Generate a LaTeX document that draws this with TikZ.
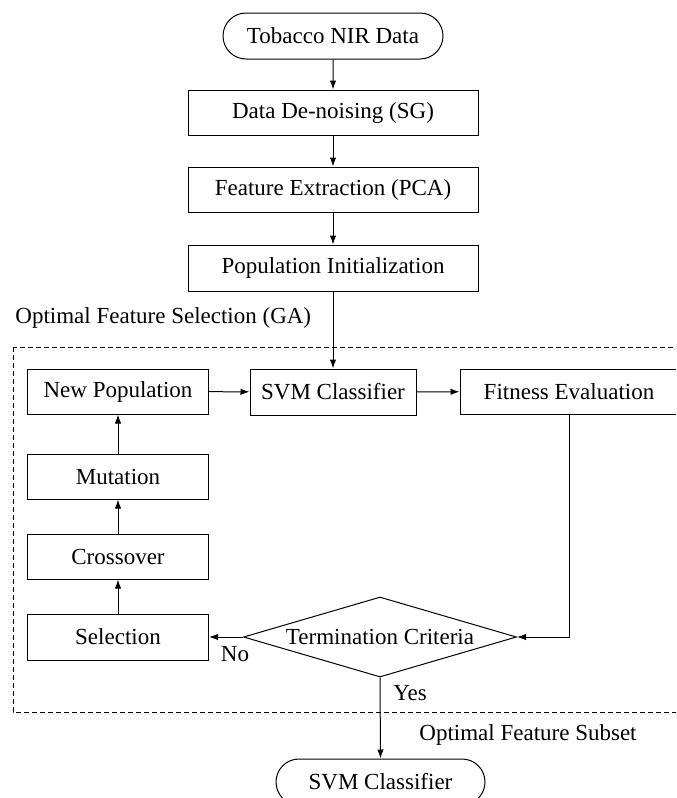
\documentclass[tikz,border=0pt]{standalone}
\usepackage{fontspec}
\setmainfont{Liberation Serif}
\usetikzlibrary{shapes.geometric,shapes.misc,arrows.meta}
\begin{document}
\begin{tikzpicture}[x=0.5pt,y=-0.5pt,
  every node/.style={font=\fontsize{11.5}{13}\selectfont,inner sep=0pt},
  proc/.style={draw,rectangle,line width=0.5pt,minimum height=22.5pt,align=center},
  term/.style={draw,rounded rectangle,line width=0.5pt,minimum height=23pt},
  decis/.style={draw,diamond,aspect=3.41,line width=0.5pt,minimum width=136.5pt,minimum height=40pt},
  arr/.style={line width=0.5pt,-{Latex[length=4.5pt,width=3.2pt]}}
]
\useasboundingbox (0,0) rectangle (676,798);
\clip (0,0) rectangle (676,798);
\fill[white] (0,0) rectangle (676,798);

\node[term,minimum width=110pt] (start) at (333,36) {Tobacco NIR Data};
\node[proc,minimum width=145pt] (den) at (333,112.5) {Data De-noising (SG)};
\node[proc,minimum width=145pt] (fe) at (333,189.5) {Feature Extraction (PCA)};
\node[proc,minimum width=145pt,minimum height=23pt] (pi) at (333,268) {Population Initialization};

\node[anchor=west] (galbl) at (15,318) {Optimal Feature Selection (GA)};
\draw[line width=0.5pt,dash pattern=on 2.5pt off 1.5pt] (13,347) rectangle (690,712);

\node[proc,minimum width=90.5pt] (np) at (118,391.5) {New Population};
\node[proc,minimum width=83pt,minimum height=23pt] (svm) at (333,392) {SVM Classifier};
\node[proc,minimum width=109pt] (fit) at (569,391.5) {Fitness Evaluation};
\node[proc,minimum width=90.5pt] (mut) at (118,476.5) {Mutation};
\node[proc,minimum width=90.5pt] (cro) at (118,556.5) {Crossover};
\node[proc,minimum width=90.5pt,minimum height=23pt] (sel) at (118,637) {Selection};
\node[decis] (tc) at (380,637) {Termination Criteria};

\node (no) at (235,654) {No};
\node (yes) at (410,693) {Yes};
\node (ofs) at (528,735) {Optimal Feature Subset};
\node[term,minimum width=104.5pt] (end) at (380.5,782) {SVM Classifier};

\draw[arr] (start) -- (den);
\draw[arr] (den) -- (fe);
\draw[arr] (fe) -- (pi);
\draw[arr] (pi) -- (svm);
\draw[arr] (np) -- (svm);
\draw[arr] (svm) -- (fit);
\draw[arr] (fit.south) |- (tc.east);
\draw[arr] (tc.west) -- (sel.east);
\draw[arr] (sel) -- (cro);
\draw[arr] (cro) -- (mut);
\draw[arr] (mut) -- (np);
\draw[arr] (tc.south) -- (end.north);
\end{tikzpicture}
\end{document}
